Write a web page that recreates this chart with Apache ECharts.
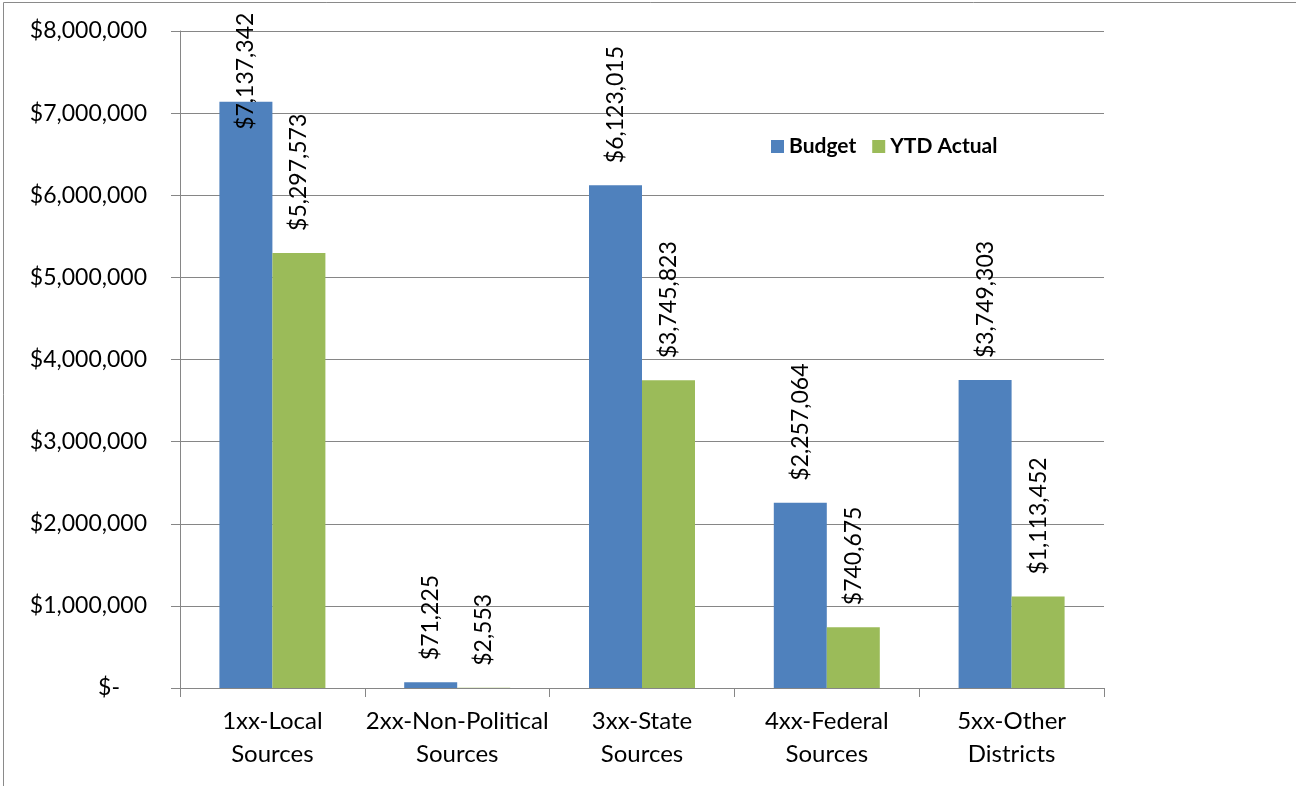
<!DOCTYPE html>
<html>
<head>
<meta charset="utf-8">
<script src="https://cdn.jsdelivr.net/npm/echarts@6/dist/echarts.min.js"></script>
<style>
  html, body { margin: 0; padding: 0; background: #fff; overflow: hidden; }
  #main { width: 1296px; height: 786px; }
</style>
</head>
<body>
<div id="main"></div>
<script>
// categories and values
const categories = ['1xx-Local\nSources', '2xx-Non-Political\nSources', '3xx-State\nSources', '4xx-Federal\nSources', '5xx-Other\nDistricts'];
const budget = [7137342, 71225, 6123015, 2257064, 3749303];
const ytdActual = [5297573, 2553, 3745823, 740675, 1113452];
const seriesNames = ['Budget', 'YTD Actual'];

const FONT = 'Lato, "Open Sans", sans-serif';
const money = (v) => '$' + v.toLocaleString('en-US');

var myChart = echarts.init(document.getElementById('main'));

const barLabel = {
    show: true,
    position: 'top',
    distance: 22,
    rotate: 90,
    align: 'left',
    verticalAlign: 'middle',
    color: '#000',
    fontFamily: FONT,
    fontSize: 23,
    formatter: (p) => money(p.value)
};

// the tallest label would run off the top, so Excel pushed it down into the bar
const budgetData = budget.map((v, i) => i === 0
    ? { value: v, label: { position: ['50%', 28] } }
    : v);

var option = {
    animation: false,
    textStyle: { fontFamily: FONT },
    graphic: [
        {
            type: 'rect',
            shape: { x: 3.5, y: 2.5, width: 1400, height: 900 },
            style: { fill: 'none', stroke: '#8a8a8a', lineWidth: 1 },
            silent: true
        }
    ],
    legend: {
        data: seriesNames,
        left: 766,
        top: 131,
        icon: 'rect',
        itemWidth: 13,
        itemHeight: 13,
        itemGap: 16,
        textStyle: { fontFamily: FONT, fontSize: 21, fontWeight: 'bold', color: '#000' }
    },
    grid: { left: 180, right: 192, top: 31, bottom: 98 },
    xAxis: {
        type: 'category',
        data: categories,
        axisLine: { lineStyle: { color: '#868686' } },
        axisTick: { show: true, length: 9, lineStyle: { color: '#868686' } },
        axisLabel: { color: '#000', fontFamily: FONT, fontSize: 24, lineHeight: 33, margin: 17, interval: 0 }
    },
    yAxis: {
        type: 'value',
        min: 0,
        max: 8000000,
        interval: 1000000,
        axisLine: { show: true, lineStyle: { color: '#868686' } },
        axisTick: { show: true, length: 9, lineStyle: { color: '#868686' } },
        splitLine: { lineStyle: { color: '#868686' } },
        axisLabel: {
            color: '#000',
            fontFamily: FONT,
            fontSize: 23,
            margin: 33,
            formatter: (v) => v === 0 ? '{z|$-}' : money(v),
            rich: { z: { fontFamily: FONT, fontSize: 23, color: '#000', padding: [0, 27, 0, 0] } }
        }
    },
    series: [
        {
            name: seriesNames[0],
            type: 'bar',
            data: budgetData,
            barWidth: 53,
            barGap: '0%',
            itemStyle: { color: '#4F81BD' },
            label: barLabel
        },
        {
            name: seriesNames[1],
            type: 'bar',
            data: ytdActual,
            barWidth: 53,
            itemStyle: { color: '#9BBB59' },
            label: barLabel
        }
    ]
};

myChart.setOption(option);
</script>
</body>
</html>
